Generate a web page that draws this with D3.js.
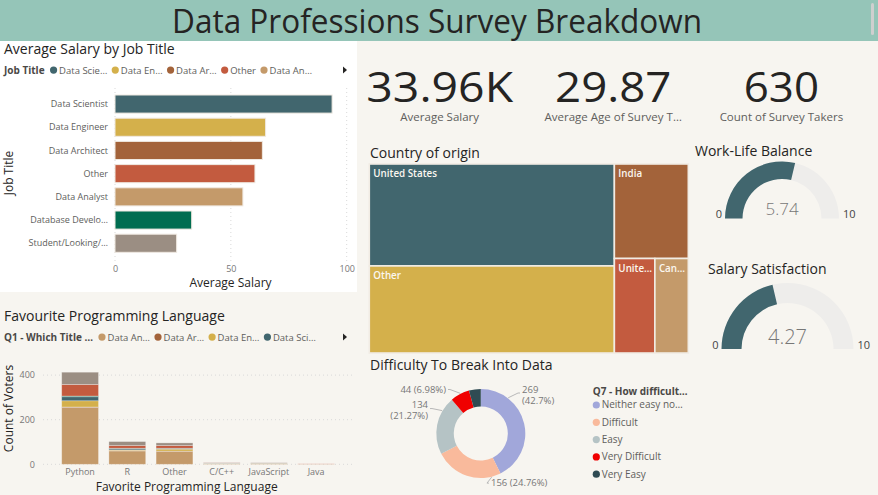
<!DOCTYPE html>
<html><head><meta charset="utf-8">
<script src="https://cdn.jsdelivr.net/npm/d3@7/dist/d3.min.js"></script>
<style>
html,body{margin:0;padding:0;background:#F7F5F0;overflow:hidden;}
svg{display:block;}
text{font-family:"Open Sans",sans-serif;}
</style></head><body>
<svg id="c" width="878" height="495"></svg>
<script>
// ================= DATA =================
const dashboardTitle = "Data Professions Survey Breakdown";

const jobTitles = ["Data Scientist","Data Engineer","Data Architect","Other","Data Analyst","Database Developer","Student/Looking/None"];
const jobLabels = ["Data Scientist","Data Engineer","Data Architect","Other","Data Analyst","Database Develo…","Student/Looking/…"];
const avgSalary = [93.7, 65.0, 63.6, 60.4, 55.2, 33.1, 26.6];
const jobColors = ["#41666E","#D4B04B","#A3633A","#C35B3F","#C49A6A","#006D50","#9B8E83"];
const jobLegend = ["Data Scie…","Data En…","Data Ar…","Other","Data An…"];
const salaryTicks = [0, 50, 100];

const kpiValues = ["33.96K","29.87","630"];
const kpiLabels = ["Average Salary","Average Age of Survey T…","Count of Survey Takers"];

const countries = ["United States","Other","India","United Kingdom","Canada"];
const countryLabels = ["United States","Other","India","Unite…","Can…"];
const countryCounts = [261, 223, 73, 40, 33];
const countryColors = ["#41666E","#D4B04B","#A3633A","#C35B3F","#C49A6A"];

const gaugeTitles = ["Work-Life Balance","Salary Satisfaction"];
const gaugeValues = [5.74, 4.27];
const gaugeRange = [0, 10];

const languages = ["Python","R","Other","C/C++","JavaScript","Java"];
const stackTitles = ["Data Analyst","Data Architect","Data Engineer","Data Scientist","Database Developer","Other","Student/Looking/None"];
const stackColors = ["#C49A6A","#A3633A","#D4B04B","#41666E","#006D50","#C35B3F","#9B8E83"];
const stackLegend = ["Data An…","Data Ar…","Data En…","Data Sci…"];
const votesDataAnalyst   = [255, 60, 57, 3, 3, 1];
const votesDataArchitect = [2, 2, 2, 1, 0, 0];
const votesDataEngineer  = [28, 3, 9, 1, 1, 0];
const votesDataScientist = [18, 6, 3, 1, 0, 0];
const votesDatabaseDev   = [3, 1, 1, 0, 1, 0];
const votesOther         = [52, 12, 12, 1, 1, 1];
const votesStudent       = [55, 18, 12, 1, 1, 0];
const voteTicks = [0, 200, 400];

const difficulty = ["Neither easy nor difficult","Difficult","Easy","Very Difficult","Very Easy"];
const difficultyLegend = ["Neither easy no…","Difficult","Easy","Very Difficult","Very Easy"];
const difficultyCounts = [269, 156, 134, 44, 27];
const difficultyColors = ["#A1A7DA","#F9BA9C","#B5C3C5","#F00000","#2F4B53"];

// ================= DRAW =================
const svg = d3.select("#c");
const DIN = "Roboto, sans-serif";
const TXT = "#252423", SUB = "#605E5C";

svg.append("rect").attr("width",878).attr("height",495).attr("fill","#F7F5F0");
svg.append("rect").attr("width",878).attr("height",41).attr("fill","#95C5B8");
svg.append("text").attr("x",437).attr("y",32.5).attr("text-anchor","middle")
  .attr("font-family",DIN).attr("font-size",33).attr("fill",TXT)
  .attr("textLength",530).attr("lengthAdjust","spacingAndGlyphs").text(dashboardTitle);
svg.append("rect").attr("x",871).attr("y",3).attr("width",3).attr("height",32).attr("rx",1.5).attr("fill","#CFCFCF");
svg.append("rect").attr("x",0).attr("y",41).attr("width",357).attr("height",251).attr("fill","#FFFFFF");

function title(x,y,t,size){
  return svg.append("text").attr("x",x).attr("y",y).attr("font-size",size||14).attr("fill",TXT).text(t);
}
function legend(x0,y,head,items,colors){
  const h = svg.append("text").attr("x",x0).attr("y",y).attr("font-size",10).attr("font-weight",700).attr("fill","#4A4846").text(head);
  let x = x0 + h.node().getComputedTextLength() + 9;
  items.forEach((s,i)=>{
    svg.append("circle").attr("cx",x).attr("cy",y-3.4).attr("r",3.6).attr("fill",colors[i]);
    const t = svg.append("text").attr("x",x+5.5).attr("y",y).attr("font-size",9.5).attr("fill",SUB).text(s);
    x += 5.5 + t.node().getComputedTextLength() + 8;
  });
  svg.append("path").attr("d",`M343,${y-7} L347,${y-3.5} L343,${y} Z`).attr("fill",TXT);
}

// ---------- Average Salary by Job Title ----------
title(4,53.5,"Average Salary by Job Title");
legend(4,73.5,"Job Title",jobLegend,jobColors);
const xs = d3.scaleLinear().domain([0,100]).range([115,346.7]);
const ys = d3.scaleBand().domain(jobTitles).range([92.45,254.85]).paddingInner(0.22).paddingOuter(0.11);
svg.append("g").selectAll("line").data(salaryTicks).join("line")
  .attr("x1",d=>xs(d)).attr("x2",d=>xs(d)).attr("y1",88).attr("y2",262)
  .attr("stroke","#D9D9D9").attr("stroke-dasharray","1,3");
svg.append("g").selectAll("rect").data(jobTitles).join("rect")
  .attr("x",xs(0)).attr("y",d=>ys(d)).attr("height",ys.bandwidth())
  .attr("width",(d,i)=>xs(avgSalary[i])-xs(0))
  .attr("fill",(d,i)=>jobColors[i]).attr("stroke","#EFE9E1").attr("stroke-width",1);
svg.append("g").selectAll("text").data(jobTitles).join("text")
  .attr("x",108).attr("y",d=>ys(d)+ys.bandwidth()/2+3.2).attr("text-anchor","end")
  .attr("font-size",9).attr("fill",SUB).text((d,i)=>jobLabels[i]);
const gx = svg.append("g").attr("transform","translate(0,266)")
  .call(d3.axisBottom(xs).tickValues(salaryTicks).tickSize(0).tickPadding(0));
gx.select(".domain").remove();
gx.selectAll("text").attr("font-size",9).attr("fill","#777").attr("font-family","Open Sans").attr("dy","0.71em");
svg.append("text").attr("x",230.5).attr("y",287).attr("text-anchor","middle").attr("font-size",12).attr("fill",TXT).text("Average Salary");
svg.append("text").attr("transform","translate(12.5,173) rotate(-90)").attr("text-anchor","middle").attr("font-size",12).attr("fill",TXT).text("Job Title");

// ---------- KPI cards ----------
const kpiCenters = [439.7, 613.2, 781.4];
const kpiWidths = [146.7, 116.3, 75.3];
kpiValues.forEach((v,i)=>{
  svg.append("text").attr("x",kpiCenters[i]).attr("y",102).attr("text-anchor","middle")
    .attr("font-family",DIN).attr("font-size",42).attr("fill",TXT)
    .attr("textLength",kpiWidths[i]).attr("lengthAdjust","spacingAndGlyphs").text(v);
  svg.append("text").attr("x",kpiCenters[i]).attr("y",121).attr("text-anchor","middle")
    .attr("font-size",11.5).attr("fill",SUB).text(kpiLabels[i]);
});

// ---------- Treemap ----------
title(370,157.5,"Country of origin");
const troot = d3.hierarchy({children: countries.map((c,i)=>({name:c,label:countryLabels[i],value:countryCounts[i],color:countryColors[i]}))})
  .sum(d=>d.value||0).sort((a,b)=>b.value-a.value);
d3.treemap().tile(d3.treemapSquarify).size([319,189]).round(false)(troot);
const tg = svg.append("g").attr("transform","translate(369.3,164)");
const cells = tg.selectAll("g").data(troot.leaves()).join("g");
cells.append("rect").attr("x",d=>d.x0).attr("y",d=>d.y0)
  .attr("width",d=>d.x1-d.x0).attr("height",d=>d.y1-d.y0)
  .attr("fill",d=>d.data.color).attr("stroke","#F1ECE4").attr("stroke-width",1.6);
cells.append("text").attr("x",d=>d.x0+4).attr("y",d=>d.y0+13)
  .attr("font-size",9.8).attr("font-weight",600).attr("fill","#FBF7F0").text(d=>d.data.label);

// ---------- Gauges ----------
const gaugeLayout = [
  {cx:782, cy:218.5, r0:39.5, r1:57, tx:695, ty:155.5, vs:17, vy:215},
  {cx:787.5, cy:349, r0:46, r1:66, tx:708, ty:274, vs:20, vy:344}
];
const ga = d3.scaleLinear().domain(gaugeRange).range([-Math.PI/2, Math.PI/2]);
gaugeTitles.forEach((t,i)=>{
  const L = gaugeLayout[i];
  title(L.tx,L.ty,t);
  const g = svg.append("g").attr("transform",`translate(${L.cx},${L.cy})`);
  const arc = d3.arc().innerRadius(L.r0).outerRadius(L.r1);
  g.append("path").attr("d",arc({startAngle:ga(gaugeRange[0]),endAngle:ga(gaugeRange[1])})).attr("fill","#EEEDEB");
  g.append("path").attr("d",arc({startAngle:ga(gaugeRange[0]),endAngle:ga(gaugeValues[i])})).attr("fill","#41666E");
  g.append("text").attr("x",0).attr("y",L.vy-L.cy).attr("text-anchor","middle")
    .attr("font-family",DIN).attr("font-weight",300).attr("font-size",L.vs).attr("fill","#777").text(gaugeValues[i].toFixed(2));
  g.append("text").attr("x",-L.r1-3).attr("y",-0.5).attr("text-anchor","end").attr("font-size",11).attr("fill","#444").text(gaugeRange[0]);
  g.append("text").attr("x",L.r1+4).attr("y",-0.5).attr("text-anchor","start").attr("font-size",11).attr("fill","#444").text(gaugeRange[1]);
});

// ---------- Favourite Programming Language ----------
title(4,320.5,"Favourite Programming Language");
legend(4,340.5,"Q1 - Which Title …",stackLegend,stackColors);
const voteSeries = [votesDataAnalyst,votesDataArchitect,votesDataEngineer,votesDataScientist,votesDatabaseDev,votesOther,votesStudent];
const langRows = languages.map((l,i)=>{const r={lang:l}; stackTitles.forEach((k,j)=>r[k]=voteSeries[j][i]); return r;});
const stacked = d3.stack().keys(stackTitles)(langRows);
const xb = d3.scaleBand().domain(languages).range([56.5,339.7]).paddingInner(0.22).paddingOuter(0.11);
const yv = d3.scaleLinear().domain([0,400]).range([464.3,375.1]);
svg.append("g").selectAll("line").data(voteTicks).join("line")
  .attr("x1",43).attr("x2",352).attr("y1",d=>yv(d)).attr("y2",d=>yv(d))
  .attr("stroke","#D9D9D9").attr("stroke-dasharray","1,3");
const gy = svg.append("g").attr("transform","translate(35,0)")
  .call(d3.axisLeft(yv).tickValues(voteTicks).tickSize(0).tickPadding(0));
gy.select(".domain").remove();
gy.selectAll("text").attr("font-size",9).attr("fill","#777").attr("font-family","Open Sans");
svg.append("g").selectAll("g").data(stacked).join("g").attr("fill",(d,i)=>stackColors[i])
  .selectAll("rect").data(d=>d).join("rect")
  .attr("x",d=>xb(d.data.lang)).attr("width",xb.bandwidth())
  .attr("y",d=>yv(d[1])).attr("height",d=>Math.max(0,yv(d[0])-yv(d[1])))
  .attr("stroke","rgba(255,255,255,0.35)").attr("stroke-width",0.8);
const gxb = svg.append("g").attr("transform","translate(0,469)")
  .call(d3.axisBottom(xb).tickSize(0).tickPadding(0));
gxb.select(".domain").remove();
gxb.selectAll("text").attr("font-size",9).attr("fill","#777").attr("font-family","Open Sans").attr("dy","0.71em");
svg.append("text").attr("x",186.7).attr("y",490.5).attr("text-anchor","middle").attr("font-size",12).attr("fill",TXT).text("Favorite Programming Language");
svg.append("text").attr("transform","translate(12.5,408.5) rotate(-90)").attr("text-anchor","middle").attr("font-size",12).attr("fill",TXT).text("Count of Voters");

// ---------- Donut ----------
title(370,370,"Difficulty To Break Into Data");
const total = d3.sum(difficultyCounts);
const pct = d3.format(".2~f");
const pie = d3.pie().sort(null).value(d=>d)(difficultyCounts);
const dcx = 480.8, dcy = 433.5;
const dg = svg.append("g").attr("transform",`translate(${dcx},${dcy})`);
const darc = d3.arc().innerRadius(27).outerRadius(44.5);
dg.selectAll("path").data(pie).join("path").attr("d",darc).attr("fill",(d,i)=>difficultyColors[i]);
// label placement (degrees clockwise from top): anchor on ring, elbow, side
const labelSpots = [
  {a:37.5, e:42.6, r:55, side:1, two:true},
  {a:166,  e:172.9, r:50, side:1, two:false},
  {a:300.6,e:297.1, r:54.8, side:-1, two:true},
  {a:333,  e:325, r:53.7, side:-1, two:false},
  null
];
const pol = (deg,r)=>[r*Math.sin(deg*Math.PI/180), -r*Math.cos(deg*Math.PI/180)];
labelSpots.forEach((s,i)=>{
  if(!s) return;
  const p0 = pol(s.a,45), p1 = pol(s.e,s.r);
  const p2 = [p1[0]+s.side*2, p1[1]];
  dg.append("polyline").attr("points",[p0,p1,p2].map(p=>p.join(",")).join(" "))
    .attr("fill","none").attr("stroke","#B8B8B8").attr("stroke-width",1);
  const tx = p2[0] + s.side*2;
  const anchor = s.side>0 ? "start" : "end";
  const v = difficultyCounts[i], pc = "(" + pct(v/total*100) + "%)";
  if(s.two){
    dg.append("text").attr("x",tx).attr("y",p1[1]-0.5).attr("text-anchor",anchor).attr("font-size",9.5).attr("fill","#777").text(v);
    dg.append("text").attr("x",tx).attr("y",p1[1]+10.5).attr("text-anchor",anchor).attr("font-size",9.5).attr("fill","#777").text(pc);
  } else {
    dg.append("text").attr("x",tx).attr("y",p1[1]+3).attr("text-anchor",anchor).attr("font-size",9.5).attr("fill","#777").text(v+" "+pc);
  }
});
// legend
svg.append("text").attr("x",592.7).attr("y",394.5).attr("font-size",10).attr("font-weight",700).attr("fill","#4A4846").text("Q7 - How difficult…");
difficultyLegend.forEach((s,i)=>{
  const cy = 405 + i*17.3;
  svg.append("circle").attr("cx",596.3).attr("cy",cy).attr("r",3.6).attr("fill",difficultyColors[i]);
  svg.append("text").attr("x",601.7).attr("y",cy+3.4).attr("font-size",10).attr("fill",SUB).text(s);
});
</script>
</body></html>
